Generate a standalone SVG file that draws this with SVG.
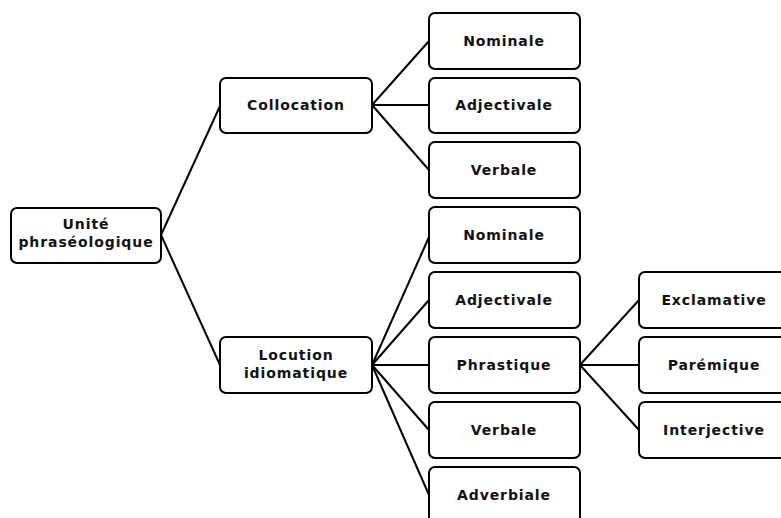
<svg xmlns="http://www.w3.org/2000/svg" width="781" height="518" viewBox="0 0 781 518">
<style>
.box{fill:#fff;stroke:#000;stroke-width:2}
.t{font-family:"DejaVu Sans",Verdana,sans-serif;font-size:14px;font-weight:bold;letter-spacing:0.9px;fill:#111;text-anchor:middle}
.c{stroke:#000;stroke-width:2;fill:none}
</style>
<g id="connectors">
<line class="c" x1="161" y1="235" x2="220" y2="106"/>
<line class="c" x1="161" y1="235" x2="220" y2="365"/>
<line class="c" x1="372" y1="105" x2="429" y2="41"/>
<line class="c" x1="372" y1="105" x2="429" y2="105"/>
<line class="c" x1="372" y1="105" x2="429" y2="170"/>
<line class="c" x1="372" y1="365" x2="429" y2="237"/>
<line class="c" x1="372" y1="365" x2="429" y2="300"/>
<line class="c" x1="372" y1="365" x2="429" y2="365"/>
<line class="c" x1="372" y1="365" x2="429" y2="430"/>
<line class="c" x1="372" y1="365" x2="429" y2="495"/>
<line class="c" x1="580" y1="365" x2="639" y2="300"/>
<line class="c" x1="580" y1="365" x2="639" y2="365"/>
<line class="c" x1="580" y1="365" x2="639" y2="430"/>
</g>
<g id="unite"><rect class="box" x="11" y="208" width="150" height="55" rx="6"/><text class="t" x="86" y="229">Unité</text><text class="t" x="86" y="247">phraséologique</text></g>
<g id="collocation"><rect class="box" x="220" y="78" width="152" height="55" rx="6"/><text class="t" x="296" y="110">Collocation</text></g>
<g id="locution"><rect class="box" x="220" y="337" width="152" height="56" rx="6"/><text class="t" x="296" y="360">Locution</text><text class="t" x="296" y="378">idiomatique</text></g>
<g id="col-nominale"><rect class="box" x="429" y="13" width="151" height="56" rx="6"/><text class="t" x="504" y="46">Nominale</text></g>
<g id="col-adjectivale"><rect class="box" x="429" y="78" width="151" height="55" rx="6"/><text class="t" x="504" y="110">Adjectivale</text></g>
<g id="col-verbale"><rect class="box" x="429" y="142" width="151" height="56" rx="6"/><text class="t" x="504" y="175">Verbale</text></g>
<g id="loc-nominale"><rect class="box" x="429" y="207" width="151" height="56" rx="6"/><text class="t" x="504" y="240">Nominale</text></g>
<g id="loc-adjectivale"><rect class="box" x="429" y="272" width="151" height="56" rx="6"/><text class="t" x="504" y="305">Adjectivale</text></g>
<g id="loc-phrastique"><rect class="box" x="429" y="337" width="151" height="56" rx="6"/><text class="t" x="504" y="370">Phrastique</text></g>
<g id="loc-verbale"><rect class="box" x="429" y="402" width="151" height="56" rx="6"/><text class="t" x="504" y="435">Verbale</text></g>
<g id="loc-adverbiale"><rect class="box" x="429" y="467" width="151" height="60" rx="6"/><text class="t" x="504" y="500">Adverbiale</text></g>
<g id="exclamative"><rect class="box" x="639" y="272" width="150" height="56" rx="6"/><text class="t" x="714" y="305">Exclamative</text></g>
<g id="paremique"><rect class="box" x="639" y="337" width="150" height="56" rx="6"/><text class="t" x="714" y="370">Parémique</text></g>
<g id="interjective"><rect class="box" x="639" y="402" width="150" height="56" rx="6"/><text class="t" x="714" y="435">Interjective</text></g>
</svg>
